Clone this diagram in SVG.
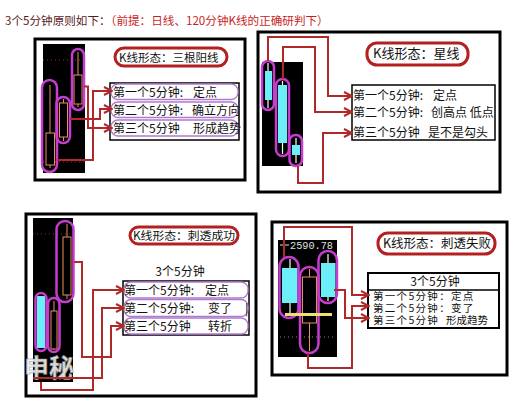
<svg xmlns="http://www.w3.org/2000/svg" width="511" height="403" viewBox="0 0 511 403">
<style>
text{font-family:"Noto Sans CJK SC","Noto Sans",sans-serif;fill:#111}
.frame{fill:#fff;stroke:#000;stroke-width:3}
.chart{fill:#000}
.pill{fill:none;stroke:#c63ccf;stroke-width:2.5}
.bo{fill:#000;stroke:#e8905c;stroke-width:1}
.wo{stroke:#e8905c;stroke-width:1}
.cy{fill:#6ceef8}
.ww{stroke:#fff;stroke-width:1.2}
.tbox{fill:#fff;stroke:#b42020;stroke-width:3}
.tab{fill:#fff;stroke:#000;stroke-width:1.5}
.band{fill:none;stroke:#b07ad0;stroke-width:1.3}
.row{font-size:12px}
.row4{font-size:10.5px;letter-spacing:1.3px}
.con{fill:none;stroke:#b02828;stroke-width:2}
.dot{stroke:#8a3030;stroke-width:1;stroke-dasharray:1 3}
</style>
<defs>
<marker id="arr" viewBox="0 0 10 10" refX="9" refY="5" markerWidth="10" markerHeight="10" orient="auto" markerUnits="userSpaceOnUse">
<path d="M1,1 L9,5 L1,9" fill="none" stroke="#b02828" stroke-width="2"/>
</marker>
</defs>

<text x="5" y="25" style="font-size:11.6px;fill:#5a1a1a">3个5分钟原则如下：<tspan style="fill:#c81e1e">（前提：日线、120分钟K线的正确研判下）</tspan></text>

<!-- Panel 1 -->
<g id="panel1">
<rect class="frame" x="35" y="39" width="210" height="141"/>
<rect class="chart" x="43" y="44" width="42" height="129"/>
<line class="dot" x1="43" y1="60" x2="85" y2="60"/>
<line class="dot" x1="43" y1="162" x2="85" y2="162"/>
<g id="p1c1"><line class="wo" x1="50" y1="85" x2="50" y2="168"/><rect class="bo" x="46" y="133" width="8.5" height="32"/><rect class="pill" x="42" y="80" width="15" height="92" rx="7.5"/></g>
<g id="p1c2"><line class="wo" x1="63.5" y1="99" x2="63.5" y2="141"/><rect class="bo" x="59.5" y="103" width="8" height="34"/><rect class="pill" x="56.5" y="97" width="13.5" height="46" rx="6.7"/></g>
<g id="p1c3"><line class="wo" x1="78" y1="52" x2="78" y2="107"/><rect class="bo" x="74" y="75" width="8" height="29"/><rect class="pill" x="72" y="49" width="12" height="61" rx="6"/></g>
<g id="p1title"><rect class="tbox" x="115" y="48" width="112" height="18" rx="9"/><text x="119" y="61.5" style="font-size:11.5px">K线形态：三根阳线</text></g>
<g id="p1table">
<rect class="tab" x="110" y="83" width="129" height="57"/>
<rect class="band" x="111" y="84" width="127" height="15.5" rx="7"/>
<rect class="band" x="111" y="102" width="127" height="15.5" rx="7"/>
<rect class="band" x="111" y="120" width="127" height="16" rx="7"/>
<text class="row" x="113" y="96.5">第一个5分钟:<tspan x="193">定点</tspan></text>
<text class="row" x="113" y="114.5">第二个5分钟:<tspan x="192">确立方向</tspan></text>
<text class="row" x="113" y="132.5">第三个5分钟<tspan x="193">形成趋势</tspan></text>
</g>
</g>

<!-- Panel 2 -->
<g id="panel2">
<rect class="frame" x="258" y="32" width="242" height="160"/>
<rect class="chart" x="262" y="62" width="41" height="104"/>
<g id="p2c1"><line class="ww" x1="268" y1="63" x2="268" y2="108"/><rect class="cy" x="265" y="71" width="7" height="29"/><rect class="pill" x="262" y="61" width="12" height="49" rx="6"/></g>
<g id="p2c2"><line class="ww" x1="282.5" y1="81" x2="282.5" y2="154"/><rect class="cy" x="278" y="85" width="9" height="58"/><rect class="pill" x="276" y="79" width="13" height="77" rx="6.5"/></g>
<g id="p2c3"><line class="ww" x1="296" y1="138" x2="296" y2="163"/><rect class="cy" x="292" y="145" width="8" height="10"/><rect class="pill" x="289.5" y="135" width="12.5" height="31" rx="6"/></g>
<g id="p2title"><rect class="tbox" x="367" y="43" width="101" height="22" rx="10"/><text x="373" y="58" style="font-size:13px">K线形态：星线</text></g>
<g id="p2table">
<rect class="tab" x="352" y="85" width="143" height="55"/>
<text class="row" x="353" y="99.5">第一个5分钟:<tspan x="433">定点</tspan></text>
<text class="row" x="353" y="116.5">第二个5分钟:<tspan x="431">创高点 低点</tspan></text>
<text class="row" x="353" y="136.5">第三个5分钟<tspan x="428">是不是勾头</tspan></text>
</g>
</g>

<!-- Panel 3 -->
<g id="panel3">
<rect class="frame" x="26" y="214" width="230" height="182"/>
<rect class="chart" x="33" y="218" width="40" height="164"/>
<line class="dot" x1="33" y1="234" x2="73" y2="234"/>
<g id="p3c1"><line class="wo" x1="67" y1="224" x2="67" y2="299"/><rect class="bo" x="63" y="237" width="8" height="58"/><rect class="pill" x="56.5" y="221" width="17" height="81" rx="8.5"/></g>
<g id="p3c2"><rect class="cy" x="37" y="296" width="8" height="52"/><rect class="pill" x="35.5" y="293" width="11" height="58" rx="5.5"/></g>
<g id="p3c3"><line class="wo" x1="54" y1="301" x2="54" y2="350"/><rect class="bo" x="51" y="311" width="6" height="38"/><rect class="pill" x="48" y="298" width="11.5" height="54" rx="5.7"/></g>
<text x="24" y="377" font-weight="bold" style="font-size:25px;fill:#f2f2f2;stroke:#9a9a9a;stroke-width:0.6;opacity:0.9">申秘</text>
<g id="p3title"><rect class="tbox" x="130" y="227" width="108" height="17" rx="8.5"/><text x="133" y="240" textLength="102" lengthAdjust="spacingAndGlyphs" style="font-size:11.5px">K线形态：刺透成功</text></g>
<text class="row" x="180" y="276" text-anchor="middle">3个5分钟</text>
<g id="p3table">
<rect class="tab" x="123" y="281" width="126" height="54"/>
<rect class="band" x="124" y="282" width="124" height="16" rx="7"/>
<rect class="band" x="124" y="299.5" width="124" height="17" rx="7"/>
<rect class="band" x="124" y="318" width="124" height="16" rx="7"/>
<text class="row" x="124" y="294.5">第一个5分钟:<tspan x="205">定点</tspan></text>
<text class="row" x="124" y="312.5">第二个5分钟:<tspan x="208">变了</tspan><tspan x="245">|</tspan></text>
<text class="row" x="124" y="331">第三个5分钟<tspan x="208">转折</tspan></text>
</g>
</g>

<!-- Panel 4 -->
<g id="panel4">
<rect class="frame" x="272" y="222" width="235" height="153"/>
<rect class="chart" x="278" y="240" width="59" height="117"/>
<line x1="280" y1="245" x2="289" y2="245" stroke="#ddd" stroke-width="1"/>
<text x="290" y="248.5" textLength="43" lengthAdjust="spacingAndGlyphs" style="font-family:'Liberation Mono',monospace;font-size:10.5px;fill:#e0e0e0">2590.78</text>
<line x1="280" y1="337" x2="336" y2="337" stroke="#888" stroke-width="1" stroke-dasharray="1 3"/>
<g id="p4c1"><line class="ww" x1="290" y1="259" x2="290" y2="315"/><rect class="cy" x="282" y="268" width="15.5" height="35"/><rect class="pill" x="279.5" y="257" width="19" height="61" rx="9.5"/></g>
<g id="p4c2"><line class="wo" x1="309.5" y1="269" x2="309.5" y2="351"/><rect class="bo" x="302.5" y="277" width="14" height="46"/><rect class="pill" x="300" y="267" width="18.5" height="86" rx="9.2"/></g>
<g id="p4c3"><line class="ww" x1="328" y1="254" x2="328" y2="301"/><rect class="cy" x="321" y="263" width="14.5" height="34"/><rect class="pill" x="318.5" y="251" width="18.5" height="52" rx="9.2"/></g>
<line x1="285" y1="314.5" x2="332" y2="314.5" stroke="#f0e070" stroke-width="3"/>
<g id="p4title"><rect class="tbox" x="378" y="233" width="117" height="21" rx="10"/><text x="383" y="248" style="font-size:12.5px">K线形态：刺透失败</text></g>
<g id="p4table">
<rect class="tab" x="368" y="273" width="131" height="55" style="stroke-width:2"/>
<line x1="368" y1="290" x2="499" y2="290" stroke="#000" stroke-width="1.5"/>
<text class="row" x="435" y="286" text-anchor="middle">3个5分钟</text>
<text class="row4" x="373" y="300">第一个5分钟：定点</text>
<text class="row4" x="373" y="312">第二个5分钟：变了</text>
<text class="row4" x="373" y="324">第三个5分钟<tspan x="446" style="letter-spacing:0">形成趋势</tspan></text>
</g>
</g>

<g id="connectors">
<path class="con" marker-end="url(#arr)" d="M57,160 H93 V91 H112"/>
<path class="con" marker-end="url(#arr)" d="M70,119 H100 V109 H112"/>
<path class="con" marker-end="url(#arr)" d="M84,86.5 H88 V128 H112"/>
<path class="con" marker-end="url(#arr)" d="M268,61 V37 H328 V96 H352"/>
<path class="con" marker-end="url(#arr)" d="M283,79 V47 H315 V112 H352"/>
<path class="con" marker-end="url(#arr)" d="M298,166 V183 H323 V133 H352"/>
<path class="con" marker-end="url(#arr)" d="M74,262 H82 V357 H111 V326 H124"/>
<path class="con" marker-end="url(#arr)" d="M41,382 V390 H93 V290 H124"/>
<path class="con" marker-end="url(#arr)" d="M33,378 H102 V308 H124"/>
<path class="con" marker-end="url(#arr)" d="M284,257 V227 H352 V295 H369"/>
<path class="con" marker-end="url(#arr)" d="M308,353 V368 H352 V306 H369"/>
<path class="con" marker-end="url(#arr)" d="M334,290 H345 V318 H369"/>
</g>
</svg>
